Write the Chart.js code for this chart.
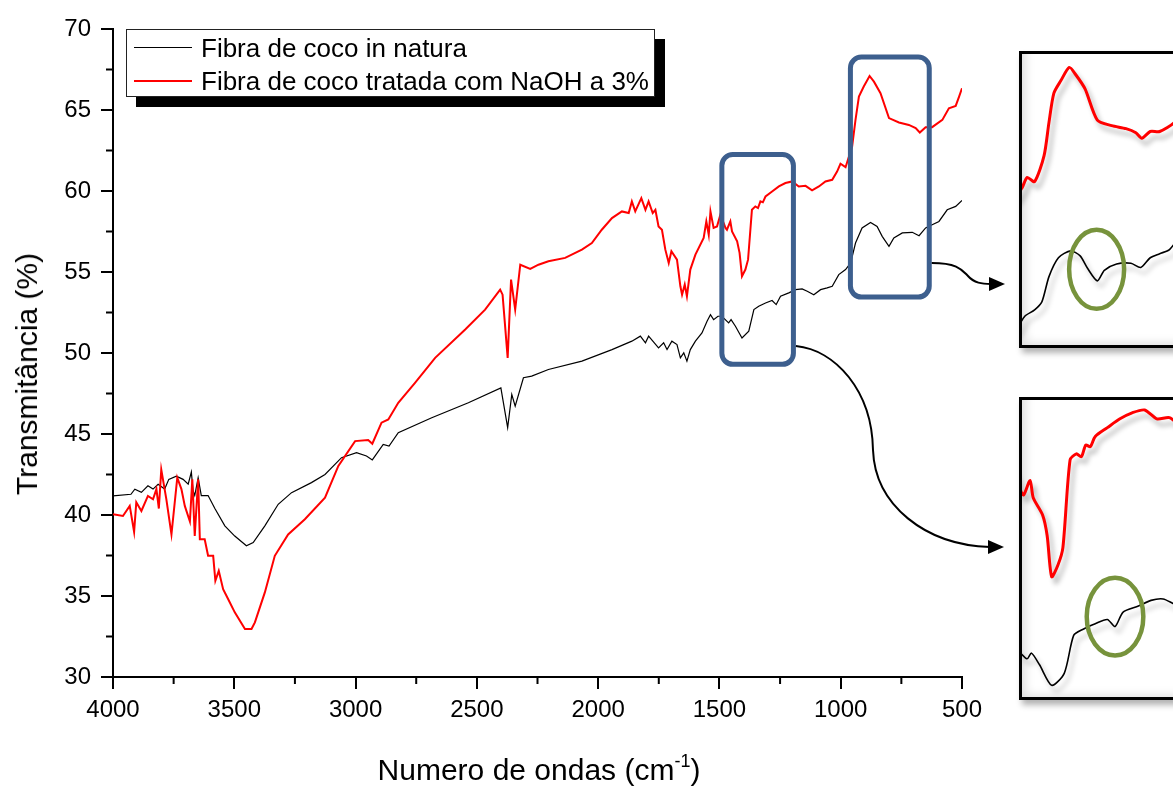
<!DOCTYPE html>
<html><head><meta charset="utf-8">
<script src="https://cdn.jsdelivr.net/npm/chart.js@4.4.1/dist/chart.umd.min.js"></script>
<style>
html,body{margin:0;padding:0;width:1173px;height:786px;overflow:hidden;background:#fff;font-family:"Liberation Sans",Arial,sans-serif;color:#000;}
#main{position:absolute;left:0;top:0;}
#legend{position:absolute;left:126px;top:29px;width:527px;height:66px;border:1.5px solid #222;background:#fff;box-shadow:10px 10px 0 #000;}
.lline{position:absolute;left:7px;width:58px;height:0;}
.ltext{position:absolute;left:74px;font-size:26px;line-height:26px;white-space:nowrap;}
.inset{position:absolute;left:1019px;width:300px;border:3px solid #000;background:#fff;box-shadow:3px 5px 6px rgba(0,0,0,0.3), inset 10px -8px 10px -6px rgba(0,0,0,0.13);}
.inset canvas{position:absolute;left:0;top:0;}
#xtitle{position:absolute;left:539px;top:755px;transform:translateX(-50%);font-size:30px;line-height:30px;white-space:nowrap;}
#xtitle sup{font-size:60%;vertical-align:0.75em;line-height:0;}
#ytitle{position:absolute;left:27px;top:374px;transform:translate(-50%,-50%) rotate(-90deg);font-size:30px;line-height:30px;white-space:nowrap;}
</style>
</head><body>
<canvas id="main" width="1173" height="786"></canvas>
<div id="legend"></div>
<div class="inset" id="insetTop" style="top:51px;height:291px;"><canvas id="cTop" width="151" height="291"></canvas></div>
<div class="inset" id="insetBot" style="top:397px;height:297px;"><canvas id="cBot" width="151" height="297"></canvas></div>
<div id="xtitle">Numero de ondas (cm<sup>-1</sup>)</div>
<div id="ytitle">Transmitância (%)</div>
<script>
// ---- data ----
const seriesNames = ["Fibra de coco in natura", "Fibra de coco tratada com NaOH a 3%"];
const xTickValues = [4000,3500,3000,2500,2000,1500,1000,500];
const yTickValues = [30,35,40,45,50,55,60,65,70];
const xMinorTicks = [3750,3250,2750,2250,1750,1250,750];
const yMinorTicks = [32.5,37.5,42.5,47.5,52.5,57.5,62.5,67.5];

const wnBlack = [4000,3926,3910,3883,3856,3835,3814,3787,3770,3739,3711,3690,3677,3670,3663,3649,3636,3608,3580,3539,3498,3450,3422,3374,3319,3264,3182,3126,3058,2996,2955,2931,2886,2862,2824,2686,2535,2401,2373,2356,2342,2308,2274,2205,2067,1943,1861,1826,1805,1792,1751,1730,1716,1696,1675,1661,1647,1634,1620,1599,1572,1551,1537,1524,1506,1490,1462,1452,1434,1407,1379,1358,1338,1310,1283,1266,1248,1214,1186,1159,1138,1111,1083,1056,1035,1008,980,959,939,912,877,850,829,801,781,746,705,677,650,623,595,561,526,500];
const tBlack = [41.18,41.28,41.59,41.4,41.8,41.6,41.9,41.6,42.2,42.4,42.2,41.9,42.65,41.5,41.2,42.3,41.2,41.2,40.4,39.33,38.7,38.1,38.3,39.33,40.66,41.38,42.0,42.5,43.54,43.85,43.64,43.4,44.36,44.26,45.08,46.0,46.93,47.85,45.39,47.44,46.72,48.47,48.57,48.98,49.5,50.21,50.73,51.04,50.63,51.04,50.32,50.63,50.21,50.73,50.52,49.7,50.01,49.5,50.21,50.73,51.24,51.96,52.37,52.06,52.27,52.27,51.86,52.06,51.65,50.93,51.35,52.68,52.89,53.09,53.24,52.99,53.5,53.71,53.91,53.96,53.81,53.6,53.91,54.02,54.12,54.84,55.15,55.56,56.79,57.72,58.06,57.81,57.2,56.58,57.1,57.41,57.45,57.24,57.72,57.92,58.12,58.84,59.05,59.42];

const wnRed = [4000,3959,3931,3913,3904,3883,3856,3835,3821,3811,3801,3780,3759,3735,3718,3704,3683,3673,3663,3649,3642,3622,3608,3587,3578,3564,3546,3525,3498,3456,3429,3415,3374,3333,3278,3209,3126,3071,3002,2948,2931,2893,2865,2824,2755,2672,2548,2466,2404,2394,2373,2359,2342,2321,2280,2246,2205,2136,2067,2026,1985,1943,1902,1874,1861,1847,1822,1805,1792,1775,1764,1751,1737,1723,1709,1698,1675,1661,1654,1643,1634,1620,1599,1565,1554,1544,1537,1524,1510,1496,1475,1469,1455,1448,1427,1417,1407,1393,1382,1366,1352,1341,1331,1321,1310,1283,1255,1228,1200,1173,1145,1118,1090,1063,1035,1015,1001,980,953,939,925,905,881,863,836,801,760,719,691,674,650,623,581,554,526,512,500];
const tRed = [40.05,39.94,40.56,38.96,40.78,40.25,41.18,40.97,41.6,40.4,42.8,40.97,38.8,42.3,41.6,40.56,39.6,42.2,38.7,42.2,38.5,38.5,37.48,37.48,35.94,36.55,35.42,34.8,33.99,32.96,32.96,33.37,35.22,37.48,38.8,39.74,41.07,43.03,44.56,44.63,44.4,45.7,45.9,46.93,48.16,49.7,51.45,52.68,53.91,53.6,49.7,54.53,52.68,55.45,55.19,55.45,55.66,55.87,56.38,56.79,57.61,58.33,58.74,58.64,59.36,58.74,59.56,58.84,59.36,58.64,58.84,57.81,57.61,56.38,55.56,56.28,55.76,54.12,53.6,54.22,53.5,55.15,56.07,57.1,58.12,57.3,58.74,57.72,57.81,58.54,57.72,57.61,58.12,57.51,56.9,56.18,54.74,55.15,55.76,58.84,59.05,58.95,59.36,59.3,59.66,59.97,60.28,60.49,60.59,60.28,60.32,60.04,60.28,60.59,60.69,61.2,61.68,61.47,62.75,64.39,65.83,66.45,67.1,66.75,66.04,64.5,64.23,64.08,63.88,63.61,63.94,63.94,64.39,65.11,65.25,65.83,66.34];

// highlighted regions (data units: wavenumber range, transmittance range)
const boxWn1 = [1490, 1195], boxT1 = [49.3, 62.25];
const boxWn2 = [960, 635],   boxT2 = [53.45, 68.27];
// inset windows (data units)
const insetTopWn = [585, 1016], insetTopT = [53.42, 67.76];
const insetBotWn = [1137, 1473], insetBotT = [50.52, 60.94];
// circled features (data units)
const markTop = [803, 57.15];
const markBot = [1266, 53.34];

// ---- build ----
const FONT = '"Liberation Sans", Arial, sans-serif';
Chart.defaults.font.family = FONT;
Chart.defaults.color = '#000';
const toXY = (xs, ys) => xs.map((x, i) => ({x: x, y: ys[i]}));
const BLACK = '#000000', RED = '#ff0000', BLUE = '#3d5f8e', GREEN = '#77933c';

// legend (HTML)
const leg = document.getElementById('legend');
[[BLACK, 1.4], [RED, 2]].forEach((st, i) => {
  const l = document.createElement('div');
  l.className = 'lline';
  l.style.top = (17 + 33 * i) + 'px';
  l.style.borderTop = st[1] + 'px solid ' + st[0];
  leg.appendChild(l);
  const t = document.createElement('div');
  t.className = 'ltext';
  t.style.top = (5 + 33 * i) + 'px';
  t.textContent = seriesNames[i];
  leg.appendChild(t);
});

function roundRectPath(ctx, x0, y0, x1, y1, r) {
  ctx.beginPath();
  ctx.moveTo(x0 + r, y0);
  ctx.arcTo(x1, y0, x1, y1, r);
  ctx.arcTo(x1, y1, x0, y1, r);
  ctx.arcTo(x0, y1, x0, y0, r);
  ctx.arcTo(x0, y0, x1, y0, r);
  ctx.closePath();
}

const mainDecor = {
  id: 'mainDecor',
  afterDatasetsDraw(chart) {
    const {ctx, scales: {x, y}} = chart;
    ctx.save();
    ctx.strokeStyle = BLUE; ctx.lineWidth = 5;
    [[boxWn1, boxT1], [boxWn2, boxT2]].forEach(b => {
      const xa = x.getPixelForValue(b[0][0]), xb = x.getPixelForValue(b[0][1]);
      const ya = y.getPixelForValue(b[1][1]), yb = y.getPixelForValue(b[1][0]);
      roundRectPath(ctx, Math.min(xa, xb), ya, Math.max(xa, xb), yb, 11);
      ctx.stroke();
    });
    // arrows to insets
    ctx.strokeStyle = '#000'; ctx.fillStyle = '#000'; ctx.lineWidth = 2;
    const b2r = x.getPixelForValue(boxWn2[1]) + 2.5;
    ctx.beginPath();
    ctx.moveTo(b2r, 263);
    ctx.bezierCurveTo(958, 263, 962, 270, 968, 276);
    ctx.bezierCurveTo(974, 283, 982, 284, 991, 284);
    ctx.stroke();
    ctx.beginPath(); ctx.moveTo(1005, 284); ctx.lineTo(989, 277); ctx.lineTo(989, 291); ctx.closePath(); ctx.fill();
    const b1r = x.getPixelForValue(boxWn1[1]) + 2.5;
    ctx.beginPath();
    ctx.moveTo(b1r, 346);
    ctx.bezierCurveTo(835, 350, 872, 390, 873, 450);
    ctx.bezierCurveTo(875, 505, 925, 545, 990, 547);
    ctx.stroke();
    ctx.beginPath(); ctx.moveTo(1004, 547); ctx.lineTo(988, 540); ctx.lineTo(988, 554); ctx.closePath(); ctx.fill();
    ctx.restore();
  },
  afterDraw(chart) {
    const {ctx, scales: {x, y}} = chart;
    ctx.save();
    ctx.strokeStyle = '#000'; ctx.lineWidth = 2;
    ctx.beginPath();
    xMinorTicks.forEach(v => { const p = x.getPixelForValue(v); ctx.moveTo(p, y.bottom); ctx.lineTo(p, y.bottom + 7); });
    yMinorTicks.forEach(v => { const p = y.getPixelForValue(v); ctx.moveTo(x.left, p); ctx.lineTo(x.left - 7, p); });
    ctx.stroke();
    ctx.restore();
  }
};

new Chart(document.getElementById('main'), {
  type: 'line',
  data: {
    datasets: [
      {label: seriesNames[1], data: toXY(wnRed, tRed), borderColor: RED, borderWidth: 2},
      {label: seriesNames[0], data: toXY(wnBlack, tBlack), borderColor: BLACK, borderWidth: 1.2}
    ]
  },
  options: {
    responsive: false, animation: false, events: [],
    elements: {point: {radius: 0}, line: {tension: 0}},
    layout: {padding: {left: 0, right: 211, top: 29, bottom: 0}},
    plugins: {legend: {display: false}, tooltip: {enabled: false}},
    scales: {
      x: {
        type: 'linear', min: 500, max: 4000, reverse: true,
        afterBuildTicks: s => { s.ticks = xTickValues.map(v => ({value: v})); },
        ticks: {font: {size: 24}, color: '#000', padding: 7, maxRotation: 0, autoSkip: false, callback: v => String(v)},
        grid: {drawOnChartArea: false, drawTicks: true, tickLength: 12, lineWidth: 2, color: '#000'},
        border: {display: true, width: 2, color: '#000'},
        afterFit: s => { s.height = 109; }
      },
      y: {
        type: 'linear', min: 30, max: 70,
        afterBuildTicks: s => { s.ticks = yTickValues.map(v => ({value: v})); },
        ticks: {font: {size: 24}, color: '#000', padding: 10, callback: v => String(v)},
        grid: {drawOnChartArea: false, drawTicks: true, tickLength: 12, lineWidth: 2, color: '#000'},
        border: {display: true, width: 2, color: '#000'},
        afterFit: s => { s.width = 113; }
      }
    }
  },
  plugins: [mainDecor]
});

function insetDecor(mark, rx, ry) {
  return {
    id: 'insetDecor',
    beforeDatasetsDraw(chart) {
      const c = chart.ctx; c.save();
      c.shadowColor = 'rgba(0,0,0,0.28)'; c.shadowBlur = 5; c.shadowOffsetX = 4; c.shadowOffsetY = 6;
    },
    afterDatasetsDraw(chart) {
      const {ctx, scales: {x, y}} = chart;
      ctx.restore();
      ctx.save();
      ctx.strokeStyle = GREEN; ctx.lineWidth = 4.5;
      ctx.beginPath();
      ctx.ellipse(x.getPixelForValue(mark[0]), y.getPixelForValue(mark[1]), rx, ry, 0, 0, Math.PI * 2);
      ctx.stroke();
      ctx.restore();
    }
  };
}

function makeInset(id, wr, tr, mark, rx, ry) {
  new Chart(document.getElementById(id), {
    type: 'line',
    data: {
      datasets: [
        {data: toXY(wnRed, tRed), borderColor: RED, borderWidth: 3},
        {data: toXY(wnBlack, tBlack), borderColor: BLACK, borderWidth: 1.6}
      ]
    },
    options: {
      responsive: false, animation: false, events: [],
      elements: {point: {radius: 0}, line: {tension: 0.25}},
      layout: {padding: 0},
      plugins: {legend: {display: false}, tooltip: {enabled: false}},
      scales: {
        x: {type: 'linear', display: false, min: wr[0], max: wr[1], reverse: true},
        y: {type: 'linear', display: false, min: tr[0], max: tr[1]}
      }
    },
    plugins: [insetDecor(mark, rx, ry)]
  });
}
makeInset('cTop', insetTopWn, insetTopT, markTop, 27.5, 39.5);
makeInset('cBot', insetBotWn, insetBotT, markBot, 28.3, 38.8);
</script>
</body></html>
